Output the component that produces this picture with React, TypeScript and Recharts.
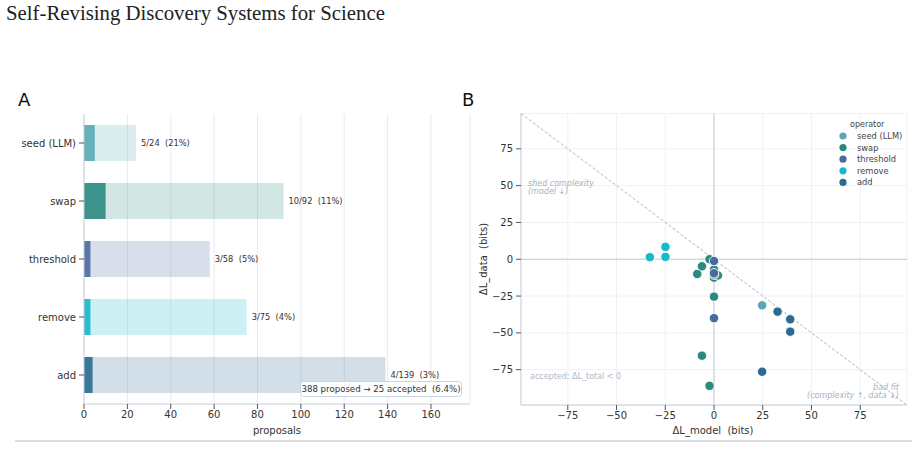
import React from 'react';
import {
  BarChart, Bar, XAxis, YAxis, CartesianGrid, Cell, LabelList,
  ScatterChart, Scatter, ReferenceLine,
} from 'recharts';

const operators = ['seed (LLM)', 'swap', 'threshold', 'remove', 'add'];
const proposed = [24, 92, 58, 75, 139];
const accepted = [5, 10, 3, 3, 4];
const opColors = ['#5aa8b4', '#2a8a7f', '#4a6a9e', '#14b9cc', '#2a6a93'];

const barTicks = [0, 20, 40, 60, 80, 100, 120, 140, 160];
const scatterTicks = [-75, -50, -25, 0, 25, 50, 75];

// accepted proposals: ΔL_model, ΔL_data (bits)
const seedModel = [24.7];
const seedData = [-31.3];
const swapModel = [-2.3, -6.2, -8.6, 0, 0, 2, 0, -6.2, -2.3, 0];
const swapData = [0, -4.8, -10, -7, -12.5, -11, -25.4, -65.5, -86, -10.5];
const thresholdModel = [0, 0, 0];
const thresholdData = [-1.2, -9.5, -40];
const removeModel = [-32.9, -24.9, -24.9];
const removeData = [1.4, 8.4, 1.6];
const addModel = [32.6, 39.1, 39.1, 24.7];
const addData = [-35.6, -40.8, -49.2, -76.4];

const scatterModels = [seedModel, swapModel, thresholdModel, removeModel, addModel];
const scatterDatas = [seedData, swapData, thresholdData, removeData, addData];

const FONT = '"DejaVu Sans", sans-serif';
const SP2 = '\u00a0\u00a0';

const barData = operators.map((op, i) => ({
  op,
  accepted: accepted[i],
  rest: proposed[i] - accepted[i],
  label: `${accepted[i]}/${proposed[i]}${SP2}(${Math.round((accepted[i] / proposed[i]) * 100)}%)`,
}));

const totalProposed = proposed.reduce((a, b) => a + b, 0);
const totalAccepted = accepted.reduce((a, b) => a + b, 0);

const fmtMinus = (v: number) => (v < 0 ? `\u2212${Math.abs(v)}` : `${v}`);

const dot = (color: string) => (props: any) => (
  <circle cx={props.cx} cy={props.cy} r={4.7} fill={color} stroke="#ffffff" strokeWidth={0.9} />
);

export default function App() {
  const tickStyle = { fontSize: 10, fill: '#333', fontFamily: FONT };
  return (
    <div style={{ position: 'absolute', left: 0, top: 0, width: 920, height: 467, background: '#fff', overflow: 'hidden', fontFamily: FONT }}>
      <div style={{ position: 'absolute', left: 6, top: 1, fontFamily: '"Liberation Serif", serif', fontSize: 20.8, color: '#222', whiteSpace: 'nowrap' }}>
        Self-Revising Discovery Systems for Science
      </div>

      <div style={{ position: 'absolute', left: 0, top: 0 }}>
        <BarChart
          width={480}
          height={440}
          layout="vertical"
          data={barData}
          margin={{ top: 114, right: 10, bottom: 0, left: 0 }}
          barSize={36}
        >
          <CartesianGrid horizontal={false} stroke="#e6ebf1" />
          <XAxis
            type="number"
            domain={[0, 178]}
            ticks={barTicks}
            height={36}
            tick={tickStyle}
            tickSize={5}
            tickMargin={2}
            axisLine={{ stroke: '#c8d0da' }}
            tickLine={{ stroke: '#555' }}
          />
          <YAxis
            type="category"
            dataKey="op"
            width={84}
            tick={tickStyle}
            tickSize={5}
            tickMargin={3}
            axisLine={{ stroke: '#c8d0da' }}
            tickLine={{ stroke: '#555' }}
          />
          <Bar dataKey="accepted" stackId="a" isAnimationActive={false}>
            {barData.map((d, i) => (
              <Cell key={d.op} fill={opColors[i]} fillOpacity={0.92} />
            ))}
          </Bar>
          <Bar dataKey="rest" stackId="a" isAnimationActive={false}>
            {barData.map((d, i) => (
              <Cell key={d.op} fill={opColors[i]} fillOpacity={0.21} />
            ))}
            <LabelList dataKey="label" position="right" offset={5} style={{ fontSize: 8.3, fill: '#333', fontFamily: FONT }} />
          </Bar>
        </BarChart>
      </div>

      <div style={{ position: 'absolute', left: 440, top: 0 }}>
        <ScatterChart width={480} height={440} margin={{ top: 113.5, right: 13, bottom: 0, left: 41 }}>
          <CartesianGrid stroke="#eef1f5" />
          <XAxis
            type="number"
            dataKey="x"
            domain={[-99, 99]}
            ticks={scatterTicks}
            allowDataOverflow
            height={35}
            tick={tickStyle}
            tickFormatter={fmtMinus}
            tickSize={5}
            tickMargin={2}
            axisLine={{ stroke: '#c8d0da' }}
            tickLine={{ stroke: '#555' }}
          />
          <YAxis
            type="number"
            dataKey="y"
            domain={[-99, 99]}
            ticks={scatterTicks}
            allowDataOverflow
            width={40}
            tick={tickStyle}
            tickFormatter={fmtMinus}
            tickSize={5}
            tickMargin={3}
            axisLine={{ stroke: '#c8d0da' }}
            tickLine={{ stroke: '#555' }}
          />
          <ReferenceLine x={0} stroke="#c3cbd6" />
          <ReferenceLine y={0} stroke="#c3cbd6" />
          <ReferenceLine
            segment={[{ x: -99, y: 99 }, { x: 99, y: -99 }]}
            stroke="#a7b4c5"
            strokeDasharray="3 2"
            ifOverflow="visible"
          />
          {operators.map((op, i) => (
            <Scatter
              key={op}
              name={op}
              data={scatterModels[i].map((x, j) => ({ x, y: scatterDatas[i][j] }))}
              shape={dot(opColors[i])}
              isAnimationActive={false}
            />
          ))}
        </ScatterChart>
      </div>

      <svg width={920} height={467} style={{ position: 'absolute', left: 0, top: 0, pointerEvents: 'none' }} fontFamily={FONT}>
        <text x={18} y={106} fontSize={18} fill="#111">A</text>
        <text x={462} y={106} fontSize={18} fill="#111">B</text>

        <text x={277} y={434} fontSize={10} fill="#333" textAnchor="middle">proposals</text>

        <rect x={300.5} y={381.5} width={161} height={15} rx={3} fill="#ffffff" fillOpacity={0.92} stroke="#c9d5e2" />
        <text x={381} y={392.2} fontSize={8.6} fill="#333" textAnchor="middle">
          {`${totalProposed} proposed \u2192 ${totalAccepted} accepted${SP2}(${((totalAccepted / totalProposed) * 100).toFixed(1)}%)`}
        </text>

        <text x={713} y={434} fontSize={10} fill="#333" textAnchor="middle">{`\u0394L_model${SP2}(bits)`}</text>
        <text x={0} y={0} fontSize={10} fill="#333" textAnchor="middle" transform="translate(487,259) rotate(-90)">{`\u0394L_data${SP2}(bits)`}</text>

        <text x={528} y={185.5} fontSize={8} fill="#a6b1c2" fontStyle="italic">shed complexity</text>
        <text x={528} y={193.5} fontSize={8} fill="#a6b1c2" fontStyle="italic">{'(model \u2193)'}</text>
        <text x={530} y={378.5} fontSize={8} fill="#b0bac8">{'accepted: \u0394L_total < 0'}</text>
        <text x={899} y={389.5} fontSize={8} fill="#a6b1c2" fontStyle="italic" textAnchor="end">bad fit</text>
        <text x={899} y={398} fontSize={8} fill="#a6b1c2" fontStyle="italic" textAnchor="end">{'(complexity \u2191, data \u2193)'}</text>

        <text x={850} y={126.5} fontSize={8} fill="#444">operator</text>
        {operators.map((op, i) => (
          <g key={op}>
            <circle cx={843} cy={136 + i * 11.6} r={3.6} fill={opColors[i]} />
            <text x={857} y={139 + i * 11.6} fontSize={8.3} fill="#444">{op}</text>
          </g>
        ))}

        <line x1={15} x2={912} y1={441} y2={441} stroke="#cfcfcf" strokeWidth={1.3} />
      </svg>
    </div>
  );
}
